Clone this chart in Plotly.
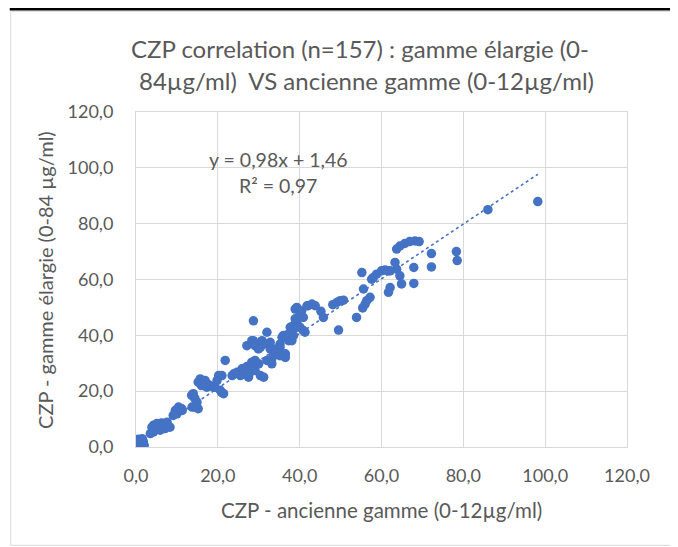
import plotly.graph_objects as go

# ---------------- data ----------------
ancienne_x = [
    0.2, 0.4, 0.6, 0.8, 1.0, 1.2, 1.5, 0.5, 1.8, 1.1, 2.0, 1.6,
    3.5, 3.9, 4.3, 4.3, 5.1, 5.9, 6.0, 6.3, 7.1, 7.5, 7.6, 8.3,
    9.1, 9.6, 10.0, 10.4, 11.2, 11.3, 13.6, 13.7, 14.0, 14.4, 14.8, 14.4, 15.2, 14.9,
    15.2, 15.7, 16.0, 16.9, 17.3, 17.4, 18.1, 19.0, 19.3, 19.8, 20.6, 20.9, 21.4, 20.2, 21.0, 21.8,
    23.5, 23.9, 24.7, 25.5, 25.9, 26.7, 27.1, 27.5, 27.9, 28.3, 28.3, 29.1, 29.1, 29.6, 30.0, 30.4,
    31.2, 32.0, 33.2, 33.2, 33.6,
    27.1, 28.3, 28.7, 29.1, 29.9, 30.4, 30.8, 32.0, 32.8, 32.8, 34.0, 35.2, 35.2, 35.7,
    36.0, 36.5, 36.5, 35.2, 37.3, 37.3, 38.1, 38.5, 28.7, 32.0,
    37.7, 38.5, 39.3, 40.1, 40.9, 39.3, 38.1, 38.9, 39.3, 40.5, 41.8, 43.0, 43.8, 42.1,
    40.1, 38.9, 40.9, 41.3, 45.2, 45.8,
    48.1, 49.1, 49.9, 50.7, 49.5, 53.9, 55.2, 55.6, 56.0, 57.2, 56.4, 55.4, 57.6, 58.0, 58.8,
    60.0, 60.9, 61.7, 62.1, 62.1, 61.7, 63.3, 63.7, 64.5, 64.9, 63.7, 64.5, 65.7, 66.9, 68.2,
    69.2, 67.9, 67.9,
    72.2, 72.2, 78.3, 78.5, 86.0, 98.2,
]
elargie_y = [
    0.3, 0.8, 1.5, 0.5, 2.2, 1.0, 3.0, 2.8, 1.8, 0.2, 0.6, 2.6,
    4.8, 7.1, 5.4, 7.8, 8.4, 6.0, 8.4, 8.6, 6.6, 7.8, 8.9, 7.1,
    11.3, 13.1, 11.9, 14.3, 13.7, 13.1, 18.5, 14.3, 19.1, 17.3, 15.5, 14.3, 13.7, 16.1,
    23.2, 24.4, 22.0, 23.8, 21.4, 22.6, 22.0, 21.4, 21.4, 23.8, 20.3, 19.6, 19.1, 25.6, 25.6, 31.0,
    25.6, 26.2, 26.8, 25.6, 28.0, 26.2, 28.8, 25.0, 26.8, 29.2, 30.4, 27.4, 31.0, 29.8, 29.8, 25.6,
    25.0, 31.0, 31.6, 29.8, 32.8,
    36.3, 38.1, 38.1, 36.3, 35.1, 35.7, 38.1, 36.9, 35.1, 37.5, 35.1, 35.7, 36.9, 39.3,
    39.9, 33.4, 32.1, 32.7, 40.5, 38.1, 38.1, 39.9, 45.2, 41.1,
    42.9, 43.5, 44.6, 42.9, 41.7, 42.9, 41.7, 49.4, 50.0, 48.8, 50.6, 51.2, 50.6, 50.6,
    47.6, 45.9, 46.4, 41.1, 48.6, 46.4,
    51.0, 51.8, 52.4, 52.6, 41.9, 46.4, 62.5, 56.6, 51.2, 53.6, 52.4, 49.8, 60.1, 60.7, 61.9,
    63.1, 63.4, 63.1, 63.1, 57.1, 55.4, 66.1, 63.7, 61.3, 58.4, 70.9, 72.0, 72.9, 73.6, 73.8,
    73.6, 64.3, 58.6,
    69.3, 64.5, 70.0, 66.8, 85.0, 87.9,
]

trend_slope = 0.98
trend_intercept = 1.46

x_ticks = [0, 20, 40, 60, 80, 100, 120]
y_ticks = [0, 20, 40, 60, 80, 100, 120]

title_line1 = "CZP correlation (n=157) : gamme élargie (0-"
title_line2 = "84µg/ml)  VS ancienne gamme (0-12µg/ml)"
x_title = "CZP - ancienne gamme (0-12µg/ml)"
y_title = "CZP - gamme élargie (0-84 µg/ml)"
eq_line1 = "y = 0,98x + 1,46"
eq_line2 = "R² = 0,97"

# ---------------- layout geometry (page pixels) ----------------
OFF = 8                      # default page margin around the plot div
W, H = 678 - OFF, 547 - OFF  # figure size so it fits the window
L, R, T, B = 135.5, 627.5, 111.7, 446.7   # plot area in page pixels
PW, PH = R - L, B - T


def px(xp):
    return (xp - L) / PW


def py(yp):
    return (B - yp) / PH


BLUE = "#4472C4"
TXT = "#595959"
GRID = "#d9d9d9"
FONT = "Lato, 'Open Sans', sans-serif"

trend_x = [min(ancienne_x), max(ancienne_x)]
trend_y = [trend_slope * v + trend_intercept for v in trend_x]

fig = go.Figure()
fig.add_trace(go.Scatter(
    x=trend_x, y=trend_y, mode="lines",
    line=dict(color=BLUE, width=1.6, dash="dot"),
    hoverinfo="skip", showlegend=False,
))
fig.add_trace(go.Scatter(
    x=ancienne_x, y=elargie_y, mode="markers",
    marker=dict(color=BLUE, size=9.5, line=dict(width=0)),
    showlegend=False,
))

axis_common = dict(
    range=[0, 120], tickformat=".1f",
    showgrid=True, gridcolor=GRID, gridwidth=1,
    zeroline=False, showline=True, linecolor=GRID, linewidth=1, mirror=True,
    ticks="", tickfont=dict(family=FONT, size=18, color=TXT),
    fixedrange=True,
)
fig.update_xaxes(**axis_common)
fig.update_yaxes(**axis_common)
fig.update_xaxes(tickvals=x_ticks, ticklabelstandoff=12)
fig.update_yaxes(tickvals=y_ticks, ticklabelstandoff=18)

annotations = [
    dict(text=title_line1, x=px(360), y=py(48), font=dict(size=24)),
    dict(text=title_line2, x=px(366), y=py(80), font=dict(size=24)),
    dict(text=x_title, x=px(381), y=py(510), font=dict(size=20.5)),
    dict(text=y_title, x=px(45), y=py(280), font=dict(size=20)),
    dict(text=eq_line1, x=px(278), y=py(159), font=dict(size=19.5)),
    dict(text=eq_line2, x=px(278), y=py(185), font=dict(size=19.5)),
]
for a in annotations:
    a.update(xref="paper", yref="paper", showarrow=False,
             xanchor="center", yanchor="middle")
    a["font"].update(family=FONT, color=TXT)
annotations[3]["textangle"] = -90

shapes = [
    # chart frame
    dict(type="rect", x0=px(10), x1=px(672), y0=py(11), y1=py(545),
         line=dict(color=GRID, width=1)),
    # table border above the chart
    dict(type="line", x0=px(9), x1=px(678), y0=py(OFF + 1), y1=py(OFF + 1),
         line=dict(color="black", width=2.5)),
]
for s in shapes:
    s.update(xref="paper", yref="paper")

fig.update_layout(
    width=W, height=H,
    margin=dict(l=L - OFF, r=(W + OFF) - R, t=T - OFF, b=(H + OFF) - B, pad=0),
    paper_bgcolor="white", plot_bgcolor="white",
    separators=", ",
    annotations=annotations, shapes=shapes,
    showlegend=False,
)

fig.write_html("out.html")
